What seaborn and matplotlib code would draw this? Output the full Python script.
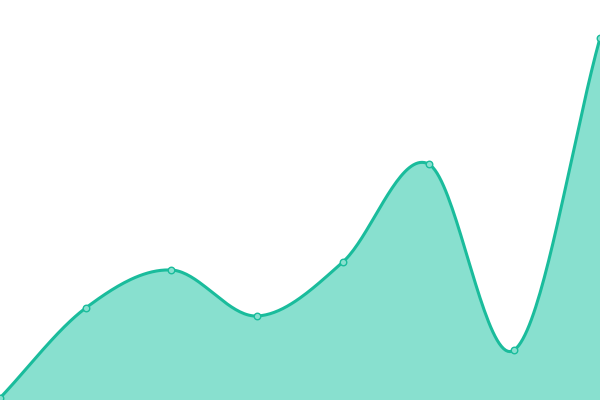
import numpy as np
import pandas as pd
import seaborn as sns
from matplotlib import pyplot as plt

# data (x index, value on a 0-400 scale)
x_idx = [0, 1, 2, 3, 4, 5, 6, 7]
values = [2, 92, 130, 84, 138, 236, 50, 362]

line_color = '#1abc9c'
fill_color = '#88e0cf'


def catmull_rom(xs, ys, n=40):
    # smooth curve through every point, like the chart library's spline
    xs = np.asarray(xs, float)
    ys = np.asarray(ys, float)
    px = np.concatenate([[2 * xs[0] - xs[1]], xs, [2 * xs[-1] - xs[-2]]])
    py = np.concatenate([[2 * ys[0] - ys[1]], ys, [2 * ys[-1] - ys[-2]]])
    out_x, out_y = [], []
    t = np.linspace(0, 1, n, endpoint=False)
    for i in range(1, len(px) - 2):
        for p, out in ((px, out_x), (py, out_y)):
            p0, p1, p2, p3 = p[i - 1], p[i], p[i + 1], p[i + 2]
            out.extend(0.5 * ((2 * p1) + (-p0 + p2) * t
                              + (2 * p0 - 5 * p1 + 4 * p2 - p3) * t ** 2
                              + (-p0 + 3 * p1 - 3 * p2 + p3) * t ** 3))
    out_x.append(xs[-1])
    out_y.append(ys[-1])
    return np.array(out_x), np.array(out_y)


sx, sy = catmull_rom(x_idx, values)
curve = pd.DataFrame({'x': sx, 'y': sy})
points = pd.DataFrame({'x': x_idx, 'y': values})

sns.set_style('white')
fig = plt.figure(figsize=(6, 4), dpi=100)
ax = fig.add_axes([0, 0, 1, 1])

ax.fill_between(curve['x'], 0, curve['y'], color=fill_color, linewidth=0, zorder=1)
sns.lineplot(data=curve, x='x', y='y', ax=ax, color=line_color, linewidth=2.2,
             sort=False, zorder=2)
sns.scatterplot(data=points, x='x', y='y', ax=ax, s=22, color=fill_color,
                edgecolor=line_color, linewidth=1.0, zorder=3, clip_on=True)

ax.set_xlim(0, 7)
ax.set_ylim(0, 400)
ax.axis('off')

fig.savefig('out.png', dpi=100)
